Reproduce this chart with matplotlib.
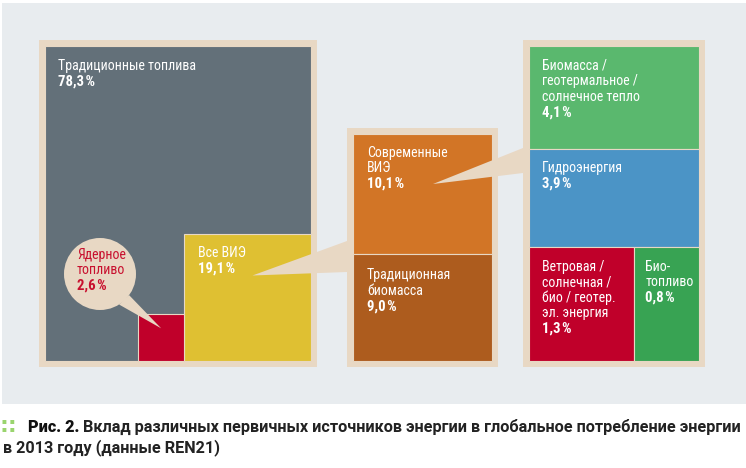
import numpy as np
import matplotlib
matplotlib.use('Agg')
import matplotlib.pyplot as plt
from matplotlib.patches import Rectangle, Polygon, Circle

# ---------------- data ----------------
main_labels = [['Традиционные топлива'], ['Ядерное', 'топливо'], ['Все ВИЭ']]
main_values = [78.3, 2.6, 19.1]
res_labels = [['Современные', 'ВИЭ'], ['Традиционная', 'биомасса']]
res_values = [10.1, 9.0]
modern_labels = [['Биомасса /', 'геотермальное /', 'солнечное тепло'],
                 ['Гидроэнергия'],
                 ['Ветровая /', 'солнечная /', 'био / геотер.', 'эл. энергия'],
                 ['Био-', 'топливо']]
modern_values = [4.1, 3.9, 1.3, 0.8]
caption_bold = 'Рис. 2.'
caption_line1 = ' Вклад различных первичных источников энергии в глобальное потребление энергии'
caption_line2 = 'в 2013 году (данные REN21)'

# ---------------- style ----------------
BG = '#e8ecef'
BEIGE = '#e8d8c4'
C_GREY = '#637079'
C_YELLOW = '#dfc032'
C_NUC = '#c0002a'
C_ORANGE = '#d27526'
C_BROWN = '#ad5c1e'
C_GREEN1 = '#5ab86e'
C_BLUE = '#4b94c6'
C_RED = '#c0002a'
C_GREEN2 = '#38a353'
FONT = dict(family=['Roboto Condensed', 'PT Sans Narrow', 'DejaVu Sans'])
CAPFONT = dict(family=['Roboto', 'DejaVu Sans'])

W, H = 746, 468
fig = plt.figure(figsize=(W / 100, H / 100), dpi=100)
ax = fig.add_axes([0, 0, 1, 1])
ax.set_xlim(0, W)
ax.set_ylim(H, 0)
ax.axis('off')


def pct(v):
    return f'{v:.1f}'.replace('.', ',') + '\u200a%'


def label(x, ytop, lines, value, color='white', size=10, pitch=15.5, z=10):
    for i, ln in enumerate(lines):
        ax.text(x, ytop + 10 + i * pitch, ln, color=color, fontsize=size,
                va='baseline', ha='left', zorder=z, **FONT)
    ax.text(x, ytop + 10 + len(lines) * pitch, value, color=color, fontsize=size + 0.6,
            fontweight='bold', va='baseline', ha='left', zorder=z, **FONT)


def box(x, y, w, h, color, z=2):
    ax.add_patch(Rectangle((x, y), w, h, facecolor=color, edgecolor=BEIGE,
                           linewidth=0.8, zorder=z))


FR = 6
# panel background
ax.add_patch(Rectangle((2, 3), W - 2, 401, facecolor=BG, edgecolor='none', zorder=0))

# ---------------- left block: all primary energy ----------------
bx, by, bw, bh = 45, 46, 266, 315
ax.add_patch(Rectangle((bx - FR, by - FR), bw + 2 * FR, bh + 2 * FR,
                       facecolor=BEIGE, edgecolor='none', zorder=1))
total = sum(main_values)
area = bw * bh
s_ren = np.sqrt(main_values[2] / total * area)
s_nuc = np.sqrt(main_values[1] / total * area)
box(bx, by, bw, bh, C_GREY)
yx, yy = bx + bw - s_ren, by + bh - s_ren
box(yx, yy, s_ren, s_ren, C_YELLOW, z=3)
nx, ny = yx - s_nuc, by + bh - s_nuc
box(nx, ny, s_nuc, s_nuc, C_NUC, z=3)
label(bx + 13, by + 14, main_labels[0], pct(main_values[0]))
label(yx + 14, yy + 13, main_labels[2], pct(main_values[2]))

# nuclear bubble
cx, cy, r = 100, 274, 36
ax.add_patch(Circle((cx, cy), r, facecolor=BEIGE, edgecolor='none', zorder=5))
tip = (nx + 0.5 * s_nuc, ny + 0.3 * s_nuc)
ax.add_patch(Polygon([(cx + r * np.cos(np.radians(58)), cy + r * np.sin(np.radians(58))),
                      (cx + r * np.cos(np.radians(36)), cy + r * np.sin(np.radians(36))),
                      tip], closed=True, facecolor=BEIGE, edgecolor='none', zorder=5))
label(77, 249, main_labels[1], pct(main_values[1]), color='#c8102e')

# ---------------- middle block: renewables ----------------
mx, my, mw, mh = 353, 134, 139, 227
ax.add_patch(Rectangle((mx - FR, my - FR), mw + 2 * FR, mh + 2 * FR,
                       facecolor=BEIGE, edgecolor='none', zorder=1))
res_total = sum(res_values)
h_top = mh * res_values[0] / res_total
box(mx, my, mw, h_top, C_ORANGE)
box(mx, my + h_top, mw, mh - h_top, C_BROWN)
label(mx + 14, my + 13, res_labels[0], pct(res_values[0]))
label(mx + 14, my + h_top + 15, res_labels[1], pct(res_values[1]))

# wedge from "all RE" to middle block
ax.add_patch(Polygon([(yx + 68, yy + 41), (mx - FR, my + 107), (mx - FR, my + 138)],
                     closed=True, facecolor=BEIGE, edgecolor='none', zorder=6))

# ---------------- right block: modern renewables ----------------
rx, ry, rw, rh = 529, 46, 170, 315
ax.add_patch(Rectangle((rx - FR, ry - FR), rw + 2 * FR, rh + 2 * FR,
                       facecolor=BEIGE, edgecolor='none', zorder=1))
min_row = 114
rows = [modern_values[0], modern_values[1], modern_values[2] + modern_values[3]]
h_last = max(rh * rows[2] / sum(rows), min_row)
rest = rh - h_last
h0 = rest * rows[0] / (rows[0] + rows[1])
h1 = rest - h0
box(rx, ry, rw, h0, C_GREEN1)
box(rx, ry + h0, rw, h1, C_BLUE)
w_red = rw * modern_values[2] / rows[2]
box(rx, ry + h0 + h1, w_red, h_last, C_RED)
box(rx + w_red, ry + h0 + h1, rw - w_red, h_last, C_GREEN2)
label(rx + 13, ry + 14, modern_labels[0], pct(modern_values[0]))
label(rx + 13, ry + h0 + 13, modern_labels[1], pct(modern_values[1]))
label(rx + 13, ry + h0 + h1 + 14, modern_labels[2], pct(modern_values[2]))
label(rx + w_red + 11, ry + h0 + h1 + 14, modern_labels[3], pct(modern_values[3]))

# wedge from "modern RE" to right block
ax.add_patch(Polygon([(mx + 80, my + 50), (rx - FR, ry + 102), (rx - FR, ry + 127)],
                     closed=True, facecolor=BEIGE, edgecolor='none', zorder=6))

# ---------------- caption ----------------
ax.text(0, 432, '::', color='#9ad46e', fontsize=16, fontweight='bold',
        va='baseline', ha='left', family='DejaVu Sans')
t = ax.text(28, 432, caption_bold, color='#111111', fontsize=11.7, fontweight='heavy',
            va='baseline', ha='left', **CAPFONT)
fig.canvas.draw()
bb = t.get_window_extent(renderer=fig.canvas.get_renderer())
x_end = ax.transData.inverted().transform((bb.x1, bb.y0))[0]
ax.text(x_end, 432, caption_line1, color='#222222', fontsize=11.7, fontweight='bold',
        va='baseline', ha='left', **CAPFONT)
ax.text(3, 452, caption_line2, color='#222222', fontsize=11.7, fontweight='bold',
        va='baseline', ha='left', **CAPFONT)

fig.savefig('out.png', dpi=100, facecolor='white')
